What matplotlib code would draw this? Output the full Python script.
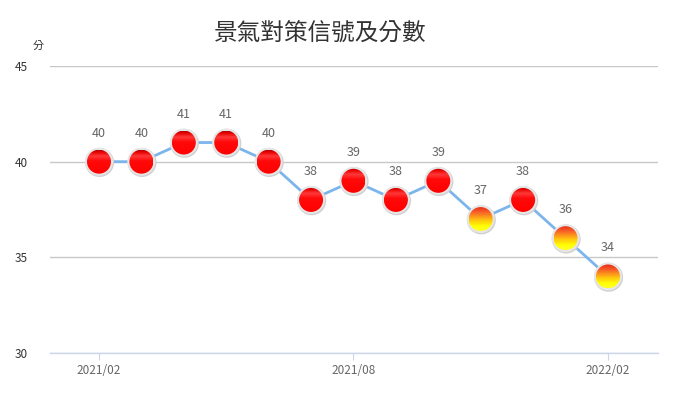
import matplotlib
matplotlib.use("Agg")
import matplotlib.pyplot as plt
import numpy as np
from matplotlib.patches import Ellipse
from matplotlib.colors import LinearSegmentedColormap

plt.rcParams['font.family'] = ['Noto Sans CJK TC', 'DejaVu Sans']

months = ["2021/02", "2021/03", "2021/04", "2021/05", "2021/06", "2021/07", "2021/08",
          "2021/09", "2021/10", "2021/11", "2021/12", "2022/01", "2022/02"]
scores = [40, 40, 41, 41, 40, 38, 39, 38, 39, 37, 38, 36, 34]
signals = ["red", "red", "red", "red", "red", "red", "red", "red", "red",
           "yellowred", "red", "yellowred", "yellowred"]
xtick_labels = ["2021/02", "2021/08", "2022/02"]
title = "景氣對策信號及分數"
yunit = "分"

W, H, DPI = 700, 400, 100
fig = plt.figure(figsize=(W / DPI, H / DPI), dpi=DPI)
L, R, B, T = 50, 658, 353, 66
ax = fig.add_axes([L / W, 1 - B / H, (R - L) / W, (B - T) / H])

x = np.arange(len(months))
xmin, xmax = -1.155, 13.18
ymin, ymax = 30, 45
ax.set_xlim(xmin, xmax)
ax.set_ylim(ymin, ymax)

ax.set_yticks([30, 35, 40, 45])
ax.yaxis.grid(True, color="#c8c8c8", linewidth=1)
ax.set_axisbelow(True)
for s in ["top", "right", "left"]:
    ax.spines[s].set_visible(False)
ax.spines["bottom"].set_color("#ccd6eb")
ax.spines["bottom"].set_linewidth(1)
ax.tick_params(axis="y", length=0, labelsize=8.5, labelcolor="#333333", pad=16)
tick_pos = [months.index(m) for m in xtick_labels]
ax.set_xticks(tick_pos)
ax.set_xticklabels(xtick_labels)
ax.tick_params(axis="x", length=5, color="#ccd6eb", labelsize=8.5, labelcolor="#666666", pad=3)

ax.plot(x, scores, color="#7cb5ec", linewidth=2, zorder=2)

# pixel -> data scales
dx = (xmax - xmin) / (R - L)
dy = (ymax - ymin) / (B - T)

red_cmap = LinearSegmentedColormap.from_list("r", [(0, "#b00000"), (0.08, "#e80000"), (0.25, "#ff3a3a"),
                                                     (0.45, "#ff0a0a"), (1, "#ff0000")])
yel_cmap = LinearSegmentedColormap.from_list("y", [(0, "#e82818"), (0.25, "#f86428"), (0.55, "#ffc010"),
                                                     (0.8, "#ffff00"), (1, "#ffff30")])
grad = np.linspace(0, 1, 64).reshape(-1, 1)

rad_px = 12
for xi, yi, sig in zip(x, scores, signals):
    ring = Ellipse((xi + 0.6 * dx, yi - 0.8 * dy), 2 * (rad_px + 2.5) * dx, 2 * (rad_px + 2.5) * dy,
                   facecolor="#d0d0d0", edgecolor="none", zorder=3)
    ax.add_patch(ring)
    ring2 = Ellipse((xi, yi), 2 * (rad_px + 2) * dx, 2 * (rad_px + 2) * dy,
                    facecolor="#e6e6e6", edgecolor="none", zorder=3.1)
    ax.add_patch(ring2)
    circ = Ellipse((xi, yi), 2 * rad_px * dx, 2 * rad_px * dy, facecolor="none", edgecolor="none", zorder=3.2)
    ax.add_patch(circ)
    cmap = red_cmap if sig == "red" else yel_cmap
    im = ax.imshow(grad, cmap=cmap, aspect="auto", interpolation="bilinear",
                   extent=(xi - rad_px * dx, xi + rad_px * dx, yi - rad_px * dy, yi + rad_px * dy),
                   origin="upper", zorder=3.3)
    im.set_clip_path(circ)
    ax.text(xi, yi + 22 * dy, str(yi), ha="center", va="bottom", fontsize=9, color="#666666", zorder=4)

ax.set_xlim(xmin, xmax)
ax.set_ylim(ymin, ymax)

fig.text(320 / W, 1 - 33 / H, title, ha="center", va="center", fontsize=17, color="#333333")
fig.text(38 / W, 1 - 46 / H, yunit, ha="center", va="center", fontsize=8, color="#333333")

fig.savefig("out.png", dpi=DPI)
